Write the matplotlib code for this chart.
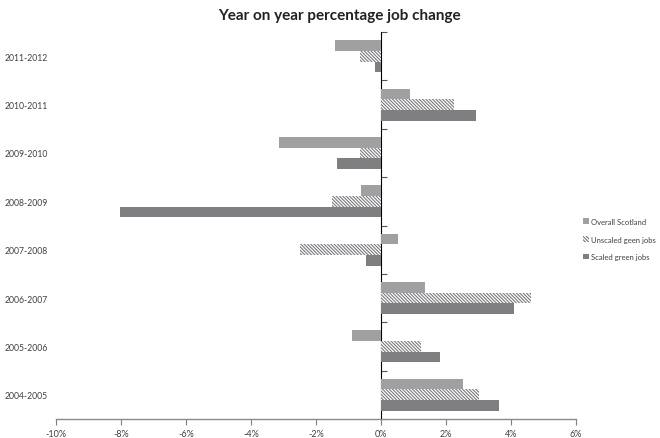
import matplotlib.pyplot as plt
import numpy as np

periods = ['2004-2005', '2005-2006', '2006-2007', '2007-2008',
           '2008-2009', '2009-2010', '2010-2011', '2011-2012']
overall = [2.53, -0.90, 1.35, 0.52, -0.62, -3.14, 0.89, -1.42]
unscaled = [3.00, 1.22, 4.60, -2.49, -1.51, -0.65, 2.25, -0.65]
scaled = [3.64, 1.80, 4.08, -0.45, -8.03, -1.35, 2.92, -0.20]
xticks = [-10, -8, -6, -4, -2, 0, 2, 4, 6]

plt.rcParams['font.family'] = ['Lato', 'DejaVu Sans']
plt.rcParams['hatch.linewidth'] = 0.8

fig = plt.figure(figsize=(6.6, 4.39), dpi=100)
ax = fig.add_axes([56 / 660, 1 - 420 / 439, 520 / 660, 387 / 439])

y = np.arange(len(periods))
h = 0.22
ax.barh(y + h, overall, height=h, color='#a0a0a3', label='Overall Scotland')
ax.barh(y, unscaled, height=h, color='white', edgecolor='#7a7a7c',
        hatch='\\' * 10, linewidth=0, label='Unscaled geen jobs')
ax.barh(y - h, scaled, height=h, color='#7f7f82', label='Scaled green jobs')

ax.set_xlim(-10, 6)
ax.set_ylim(-0.5, len(periods) - 0.5)
ax.set_xticks(xticks)
ax.set_xticklabels([f'{v}%' for v in xticks])
ax.set_yticks(y)
ax.set_yticklabels(periods)
ax.tick_params(axis='y', length=0, pad=6, labelsize=6.2, labelcolor='#404040')
ax.tick_params(axis='x', length=4, width=0.8, color='#7f7f7f', labelsize=6.5,
               labelcolor='#404040', pad=3)

for s in ['top', 'right', 'left']:
    ax.spines[s].set_visible(False)
ax.spines['bottom'].set_color('#8a8a8a')
ax.spines['bottom'].set_linewidth(1.0)

# vertical category axis at 0%
sec = ax.secondary_yaxis(10 / 16)
sec.set_yticks(np.arange(len(periods) + 1) - 0.5)
sec.set_yticklabels([])
sec.spines['left'].set_color('#555555')
sec.spines['left'].set_linewidth(1.0)
sec.tick_params(length=4, width=0.8, color='#555555')

fig.suptitle('Year on year percentage job change', x=0.515, y=0.98,
             fontsize=11, fontweight='bold', color='#222222')

fig.legend(loc='center left', bbox_to_anchor=(580 / 660, 1 - 240 / 439),
           frameon=False, fontsize=5.5, labelcolor='#404040',
           handlelength=0.8, handleheight=0.8, handletextpad=0.3,
           labelspacing=1.4, borderaxespad=0)

fig.savefig('out.png', dpi=100)
